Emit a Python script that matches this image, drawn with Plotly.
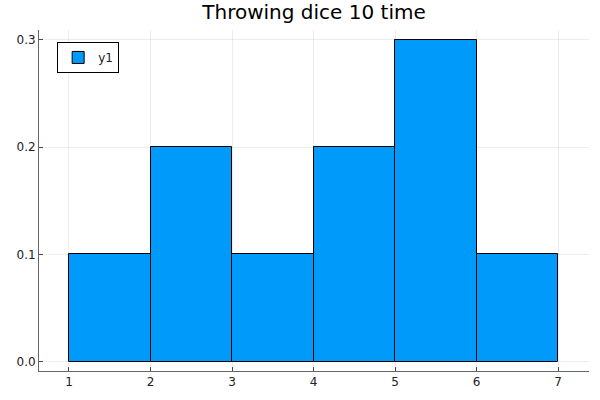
import plotly.graph_objects as go

bin_edges = [1, 2, 3, 4, 5, 6, 7]
probabilities = [0.1, 0.2, 0.1, 0.2, 0.3, 0.1]
x_ticks = [1, 2, 3, 4, 5, 6, 7]
y_ticks = [0.0, 0.1, 0.2, 0.3]

centers = [(a + b) / 2 for a, b in zip(bin_edges[:-1], bin_edges[1:])]
widths = [b - a for a, b in zip(bin_edges[:-1], bin_edges[1:])]

fig = go.Figure()
fig.add_trace(go.Bar(
    x=centers, y=probabilities, width=widths, name="y1",
    marker=dict(color="#009AFA", line=dict(color="black", width=1)),
    showlegend=True,
))

axis_common = dict(
    showgrid=True, gridcolor="rgba(0,0,0,0.07)", gridwidth=0.5,
    showline=True, linecolor="rgba(0,0,0,0.6)", linewidth=1,
    ticks="inside", ticklen=4, tickcolor="rgba(0,0,0,0.7)",
    tickfont=dict(family="DejaVu Sans", size=12, color="#222"),
    zeroline=False, mirror=False, automargin=False,
)

fig.update_layout(
    width=600, height=400,
    margin=dict(l=39, r=11, t=30, b=29),
    paper_bgcolor="white", plot_bgcolor="white",
    title=dict(text="Throwing dice 10 time", x=(39 + 589) / 2 / 600, xanchor="center",
               y=1 - 11.5 / 400, yanchor="middle",
               font=dict(family="DejaVu Sans", size=20, color="black")),
    xaxis=dict(range=[0.632, 7.38], tickvals=x_ticks, **axis_common),
    yaxis=dict(range=[-0.0087, 0.3093], tickvals=y_ticks, tickformat=".1f", **axis_common),
    legend=dict(x=0.033, y=0.965, xanchor="left", yanchor="top",
                bordercolor="black", borderwidth=1, bgcolor="white",
                font=dict(family="DejaVu Sans", size=12, color="#222")),
    bargap=0,
)

fig.write_html("out.html", config={"displayModeBar": False},
               post_script="document.body.style.margin='0';")
